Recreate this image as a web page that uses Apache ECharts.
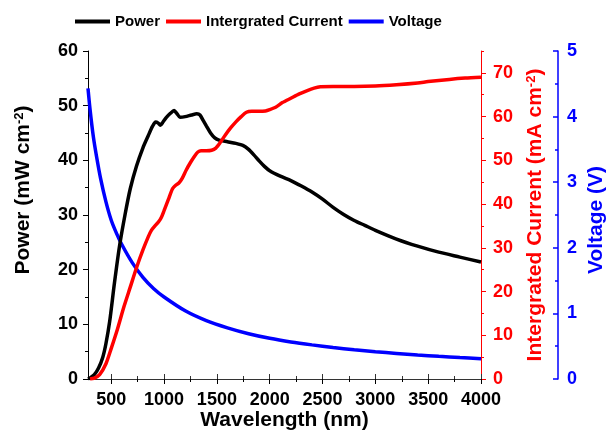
<!DOCTYPE html>
<html>
<head>
<meta charset="utf-8">
<script src="https://cdn.jsdelivr.net/npm/echarts@6/dist/echarts.min.js"></script>
<style>
  html, body { margin: 0; padding: 0; background: #fff; }
  #chart { width: 606px; height: 432px; }
</style>
</head>
<body>
<div id="chart"></div>
<script>
// Power spectrum (mW cm^-2) against wavelength (nm)
const powerWl = [280, 300, 340, 380, 420, 450, 485, 530, 580, 630, 680, 740, 800, 850, 890, 920, 945, 965, 990, 1020, 1060, 1095, 1120, 1150, 1200, 1260, 1310, 1340, 1370, 1400, 1440, 1480, 1520, 1600, 1680, 1750, 1800, 1850, 1900, 1950, 2000, 2100, 2200, 2300, 2400, 2500, 2600, 2700, 2800, 2900, 3000, 3200, 3400, 3600, 3800, 4000];
const power = [0, 0.2, 0.8, 2.0, 4.0, 6.5, 10.5, 17.5, 24.5, 30.0, 34.8, 39.0, 42.3, 44.5, 46.2, 47.0, 46.8, 46.4, 47.0, 47.8, 48.6, 49.1, 48.6, 47.9, 48.0, 48.3, 48.5, 48.3, 47.3, 46.3, 45.0, 44.1, 43.7, 43.4, 43.1, 42.7, 42.0, 41.0, 39.9, 38.9, 38.1, 37.1, 36.3, 35.3, 34.2, 32.9, 31.4, 30.1, 29.0, 28.1, 27.2, 25.6, 24.3, 23.2, 22.3, 21.4];

// Integrated current (mA cm^-2)
const currentWl = [300, 340, 390, 450, 500, 560, 620, 680, 740, 800, 850, 880, 920, 950, 975, 1000, 1040, 1080, 1110, 1140, 1170, 1210, 1250, 1290, 1320, 1350, 1400, 1450, 1490, 1530, 1580, 1630, 1680, 1730, 1780, 1830, 1900, 1960, 2000, 2060, 2120, 2200, 2280, 2350, 2420, 2480, 2600, 2800, 3000, 3200, 3400, 3500, 3700, 3850, 4000];
const current = [0, 0.2, 1.0, 3.5, 7.0, 11.5, 16.5, 21.0, 25.5, 29.5, 32.5, 34.0, 35.2, 36.0, 37.0, 38.5, 41.0, 43.5, 44.3, 44.8, 45.8, 47.8, 49.5, 51.0, 51.9, 52.2, 52.2, 52.3, 52.8, 54.0, 55.8, 57.4, 58.8, 60.0, 61.0, 61.2, 61.2, 61.3, 61.6, 62.2, 63.2, 64.2, 65.2, 65.9, 66.5, 66.8, 66.9, 66.9, 67.0, 67.3, 67.7, 68.0, 68.5, 68.8, 69.0];

// Voltage (V)
const voltageWl = [280, 300, 330, 360, 400, 450, 500, 550, 600, 700, 800, 900, 1000, 1200, 1400, 1600, 1800, 2000, 2200, 2400, 2600, 2800, 3000, 3200, 3400, 3600, 3800, 4000];
const voltage = [4.43, 4.10, 3.70, 3.40, 3.05, 2.70, 2.42, 2.22, 2.05, 1.77, 1.55, 1.38, 1.25, 1.04, 0.89, 0.78, 0.69, 0.62, 0.565, 0.52, 0.48, 0.445, 0.415, 0.39, 0.365, 0.345, 0.327, 0.31];

// Tick positions
const wlMajorTicks = [500, 1000, 1500, 2000, 2500, 3000, 3500, 4000];
const wlMinorTicks = [750, 1250, 1750, 2250, 2750, 3250, 3750];
const currentMajorTicks = [0, 10, 20, 30, 40, 50, 60, 70];

const FONT = '"Liberation Sans", Arial, Helvetica, sans-serif';
const pair = (xs, ys) => xs.map((x, i) => [x, ys[i]]);
const plain = (v) => String(v);

const chart = echarts.init(document.getElementById('chart'), null, { renderer: 'canvas' });

const tickLabel = (color) => ({
  color: color, fontFamily: FONT, fontWeight: 'bold', fontSize: 18, formatter: plain
});
const nameStyle = (color, extra) => Object.assign({
  color: color, fontFamily: FONT, fontWeight: 'bold', fontSize: 21,
  rich: {
    sup: { color: color, fontFamily: FONT, fontWeight: 'bold', fontSize: 13, verticalAlign: 'top', lineHeight: 13 }
  }
}, extra || {});

const wlRange = { type: 'value', min: 280, max: 4000, splitLine: { show: false } };

const option = {
  animation: false,
  backgroundColor: '#fff',
  legend: {
    data: ['Power', 'Intergrated Current', 'Voltage'],
    left: 70,
    top: 9,
    icon: 'rect',
    itemWidth: 35,
    itemHeight: 4,
    itemGap: 6,
    textStyle: { fontFamily: FONT, fontWeight: 'bold', fontSize: 15, color: '#000' }
  },
  grid: { left: 88, right: 125, top: 51, bottom: 53, containLabel: false, outerBoundsMode: 'none' },
  xAxis: [
    Object.assign({}, wlRange, {
      position: 'bottom',
      name: 'Wavelength (nm)',
      nameLocation: 'middle',
      nameGap: 31,
      nameMoveOverlap: false,
      nameTextStyle: nameStyle('#000'),
      axisLine: { show: true, lineStyle: { color: '#000', width: 1 } },
      axisTick: { show: true, inside: false, length: 5, customValues: wlMajorTicks, lineStyle: { color: '#000' } },
      axisLabel: { show: true, customValues: wlMajorTicks, margin: 12, ...tickLabel('#000') }
    }),
    Object.assign({}, wlRange, {
      position: 'bottom',
      axisLine: { show: false },
      axisTick: { show: true, inside: false, length: 3, customValues: wlMinorTicks, lineStyle: { color: '#000' } },
      axisLabel: { show: false }
    }),
    Object.assign({}, wlRange, {
      position: 'top',
      axisLine: { show: true, lineStyle: { color: '#333', width: 1 } },
      axisTick: { show: true, inside: false, length: 5, customValues: wlMajorTicks, lineStyle: { color: '#333' } },
      axisLabel: { show: false }
    }),
    Object.assign({}, wlRange, {
      position: 'top',
      axisLine: { show: false },
      axisTick: { show: true, inside: false, length: 3, customValues: wlMinorTicks, lineStyle: { color: '#333' } },
      axisLabel: { show: false }
    })
  ],
  yAxis: [
    {
      type: 'value', position: 'left', min: 0, max: 60, interval: 10,
      name: 'Power (mW cm{sup|-2})',
      nameLocation: 'middle', nameGap: 54,
      nameMoveOverlap: false,
      // title sits a little above the middle of the axis
      nameTextStyle: nameStyle('#000', { padding: [0, 0, 0, 50] }),
      splitLine: { show: false },
      axisLine: { show: true, lineStyle: { color: '#000', width: 1 } },
      axisTick: { show: true, inside: false, length: 5, lineStyle: { color: '#000' } },
      minorTick: { show: true, splitNumber: 2, length: 3, lineStyle: { color: '#000' } },
      minorSplitLine: { show: false },
      axisLabel: { margin: 10, ...tickLabel('#000') }
    },
    {
      type: 'value', position: 'right', min: 0, max: 75,
      name: 'Intergrated Current (mA cm{sup|-2})',
      nameLocation: 'middle', nameGap: 44,
      nameMoveOverlap: false,
      nameTextStyle: nameStyle('#ff0000'),
      splitLine: { show: false },
      axisLine: { show: true, lineStyle: { color: '#ff0000', width: 1 } },
      axisTick: { show: true, inside: false, length: 5, customValues: currentMajorTicks, lineStyle: { color: '#ff0000' } },
      axisLabel: { customValues: currentMajorTicks, margin: 12, ...tickLabel('#ff0000') }
    },
    {
      type: 'value', position: 'right', offset: 77, min: 0, max: 5, interval: 1,
      name: 'Voltage (V)',
      nameLocation: 'middle', nameGap: 28,
      nameMoveOverlap: false,
      nameTextStyle: nameStyle('#0000ff', { padding: [0, 10, 0, 0] }),
      splitLine: { show: false },
      axisLine: { show: true, lineStyle: { color: '#0000ff', width: 1.5 } },
      axisTick: { show: true, inside: true, length: 5, lineStyle: { color: '#0000ff', width: 1.5 } },
      minorTick: { show: true, splitNumber: 2, length: 3, lineStyle: { color: '#0000ff', width: 1.5 } },
      minorSplitLine: { show: false },
      axisLabel: { margin: 9, ...tickLabel('#0000ff') }
    },
    {
      // minor ticks of the current axis, every 5 mA cm^-2
      type: 'value', position: 'right', min: 0, max: 75, interval: 5,
      splitLine: { show: false },
      axisLine: { show: false },
      axisTick: { show: true, inside: false, length: 3, lineStyle: { color: '#ff0000' } },
      axisLabel: { show: false }
    }
  ],
  series: [
    {
      name: 'Power', type: 'line', xAxisIndex: 0, yAxisIndex: 0,
      data: pair(powerWl, power),
      showSymbol: false, symbol: 'none', smooth: 0.25,
      lineStyle: { color: '#000', width: 3.5 }, itemStyle: { color: '#000' }, z: 3
    },
    {
      name: 'Intergrated Current', type: 'line', xAxisIndex: 0, yAxisIndex: 1,
      data: pair(currentWl, current),
      showSymbol: false, symbol: 'none', smooth: 0.25,
      lineStyle: { color: '#ff0000', width: 3.5 }, itemStyle: { color: '#ff0000' }, z: 3
    },
    {
      name: 'Voltage', type: 'line', xAxisIndex: 0, yAxisIndex: 2,
      data: pair(voltageWl, voltage),
      showSymbol: false, symbol: 'none', smooth: 0.3,
      lineStyle: { color: '#0000ff', width: 3.5 }, itemStyle: { color: '#0000ff' }, z: 2
    }
  ]
};

chart.setOption(option);
</script>
</body>
</html>
